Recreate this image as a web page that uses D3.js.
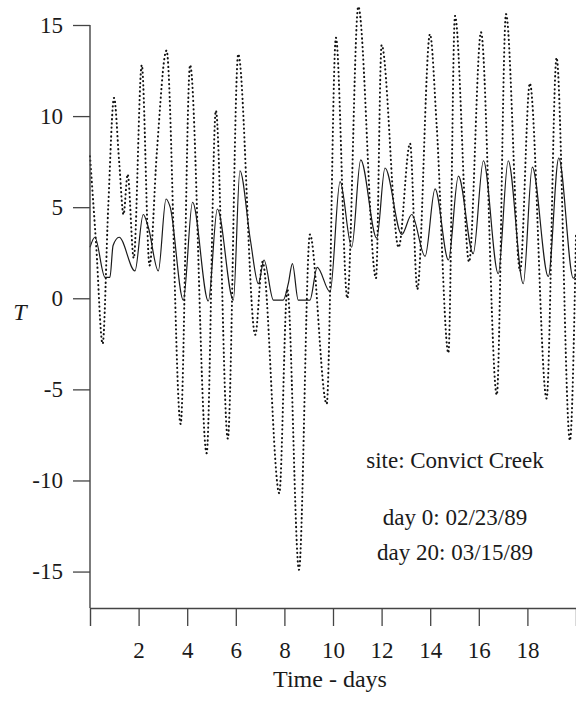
<!DOCTYPE html>
<html>
<head>
<meta charset="utf-8">
<script src="https://cdn.jsdelivr.net/npm/d3@7"></script>
<style>
  html, body { margin: 0; padding: 0; background: #fff; }
  svg { display: block; }
</style>
</head>
<body>
<svg id="chart" width="576" height="703"></svg>
<script>
// ---- data ----
const airDay  = [0, 0.25, 0.52, 0.75, 0.99, 1.2, 1.38, 1.55, 1.8, 2.13, 2.45, 2.75,
                 3.15, 3.73, 4.12, 4.8, 5.18, 5.67, 6.1, 6.8, 7.1, 7.79, 8.12, 8.6,
                 9.05, 9.74, 10.12, 10.59, 11.04, 11.77, 12.0, 12.7, 13.17, 13.47, 13.99, 14.27,
                 14.75, 15.02, 15.6, 16.09, 16.74, 17.12, 17.7, 18.1, 18.79, 19.2, 19.75, 20.0];
const airTemp = [7.8, 3.0, -2.5, 5.0, 11.0, 7.5, 4.6, 6.8, 2.2, 12.8, 1.8, 8.0,
                 13.6, -6.9, 12.8, -8.5, 10.3, -7.7, 13.4, -2.0, 2.0, -10.7, 0.5, -14.9,
                 3.5, -5.8, 14.3, 0.0, 16.0, 1.1, 13.9, 2.8, 8.5, 0.5, 14.5, 9.4,
                 -3.0, 15.5, 2.0, 14.6, -5.3, 15.6, 1.5, 11.8, -5.5, 13.2, -7.8, 3.5];

const waterDay  = [0, 0.2, 0.62, 0.82, 0.95, 1.2, 1.85, 2.19, 2.4, 2.81, 3.13, 3.3,
                   3.84, 4.22, 4.87, 5.24, 5.9, 6.17, 6.6, 6.93, 7.16, 7.55, 7.95, 8.16,
                   8.33, 8.57, 9.05, 9.35, 9.88, 10.29, 10.77, 11.14, 11.8, 12.14, 12.83, 13.24,
                   13.79, 14.2, 14.75, 15.16, 15.77, 16.19, 16.8, 17.21, 17.83, 18.2, 18.86, 19.29,
                   19.89, 20.0];
const waterTemp = [2.8, 3.35, 1.15, 1.15, 2.9, 3.35, 1.5, 4.6, 3.9, 1.5, 5.45, 5.0,
                   -0.1, 5.27, -0.15, 4.9, -0.1, 7.0, 3.2, 0.8, 2.1, -0.1, -0.1, 0.8,
                   1.9, -0.1, -0.1, 1.7, 0.35, 6.4, 2.8, 7.6, 3.3, 7.15, 3.5, 4.6,
                   2.3, 6.0, 2.1, 6.7, 2.45, 7.55, 1.35, 7.55, 0.8, 7.2, 1.2, 7.7,
                   1.1, 1.3];

const xTicks = [2, 4, 6, 8, 10, 12, 14, 16, 18];
const yTicks = [-15, -10, -5, 0, 5, 10, 15];
const xLabel = "Time - days";
const yLabel = "T";
const notes = ["site: Convict Creek", "day 0: 02/23/89", "day 20: 03/15/89"];

// ---- drawing ----
const SERIF = '"Liberation Serif", "DejaVu Serif", serif';
const svg = d3.select("#chart");
const x = d3.scaleLinear().domain([0, 20]).range([90, 576]);
const y = d3.scaleLinear().domain([-17, 15]).range([608, 25]);

const air = airDay.map((d, i) => [d, airTemp[i]]);
const water = waterDay.map((d, i) => [d, waterTemp[i]]);

const line = d3.line().x(d => x(d[0])).y(d => y(d[1])).curve(d3.curveMonotoneX);

svg.append("path")
  .datum(air)
  .attr("d", line)
  .attr("fill", "none")
  .attr("stroke", "#111")
  .attr("stroke-width", 2)
  .attr("stroke-linecap", "round")
  .attr("stroke-dasharray", "0.3,4");

svg.append("path")
  .datum(water)
  .attr("d", line)
  .attr("fill", "none")
  .attr("stroke", "#1a1a1a")
  .attr("stroke-width", 1.2);

// y axis
const yAxis = svg.append("g")
  .attr("transform", "translate(90,0)")
  .call(d3.axisLeft(y).tickValues(yTicks).tickSize(17).tickPadding(10)
    .tickFormat(d => d));
yAxis.attr("font-family", SERIF).attr("font-size", 23);
yAxis.select(".domain").remove();
yAxis.selectAll(".tick line").attr("stroke", "#444").attr("stroke-width", 1.3);
yAxis.selectAll(".tick text").attr("fill", "#1a1a1a");
svg.append("line")
  .attr("x1", 90).attr("x2", 90).attr("y1", y(15)).attr("y2", y(-17))
  .attr("stroke", "#444").attr("stroke-width", 1.4);

// x axis
const xAxis = svg.append("g")
  .attr("transform", `translate(0,${y(-17)})`)
  .call(d3.axisBottom(x).tickValues(xTicks).tickSize(18).tickPadding(16));
xAxis.attr("font-family", SERIF).attr("font-size", 23);
xAxis.select(".domain").attr("stroke", "#444").attr("stroke-width", 1.4);
xAxis.selectAll(".tick line").attr("stroke", "#444").attr("stroke-width", 1.3);
xAxis.selectAll(".tick text").attr("fill", "#1a1a1a");

// axis titles
svg.append("text")
  .attr("x", 330).attr("y", 687)
  .attr("text-anchor", "middle")
  .attr("font-family", SERIF).attr("font-size", 24)
  .attr("fill", "#1a1a1a")
  .text(xLabel);

svg.append("text")
  .attr("x", 20).attr("y", 320)
  .attr("text-anchor", "middle")
  .attr("font-family", SERIF).attr("font-size", 24)
  .attr("font-style", "italic")
  .attr("fill", "#1a1a1a")
  .text(yLabel);

// annotations
const noteY = [468, 525, 560];
notes.forEach((t, i) => {
  svg.append("text")
    .attr("x", 455).attr("y", noteY[i])
    .attr("text-anchor", "middle")
    .attr("font-family", SERIF).attr("font-size", 23)
    .attr("fill", "#1a1a1a")
    .text(t);
});
</script>
</body>
</html>
